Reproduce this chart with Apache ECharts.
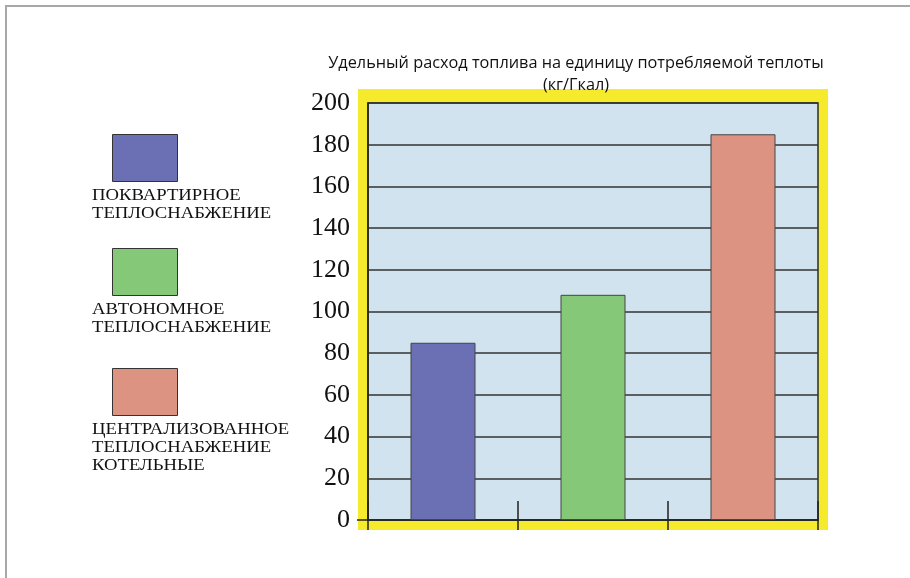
<!DOCTYPE html>
<html>
<head>
<meta charset="utf-8">
<script src="https://cdn.jsdelivr.net/npm/echarts@6/dist/echarts.min.js"></script>
<style>
  html, body { margin: 0; padding: 0; background: #fff; }
  #frame { position: absolute; left: 5px; top: 5px; width: 905px; height: 573px;
           border-top: 2px solid #a8a8a8; border-left: 2px solid #a8a8a8; box-sizing: border-box; }
  #chart { position: absolute; left: 0; top: 0; width: 910px; height: 578px; }
</style>
</head>
<body>
<div id="frame"></div>
<div id="chart"></div>
<script>
// Heating types and specific fuel consumption, kg per Gcal of delivered heat
const categories = [
  'ПОКВАРТИРНОЕ\nТЕПЛОСНАБЖЕНИЕ',
  'АВТОНОМНОЕ\nТЕПЛОСНАБЖЕНИЕ',
  'ЦЕНТРАЛИЗОВАННОЕ\nТЕПЛОСНАБЖЕНИЕ\nКОТЕЛЬНЫЕ'
];
const fuelUse = [85, 108, 185];
const barColors = ['#6b70b5', '#85c878', '#dd9381'];
const yTicks = [0, 20, 40, 60, 80, 100, 120, 140, 160, 180, 200];
const titleLines = ['Удельный расход топлива на единицу потребляемой теплоты', '(кг/Гкал)'];

// plot area placement
const G = { left: 368, top: 103, right: 92, bottom: 58 };
const W = 910, H = 578;
const plotRight = W - G.right, plotBottom = H - G.bottom;

const chart = echarts.init(document.getElementById('chart'), null, { renderer: 'canvas' });

// legend swatches with captions underneath
const legendTops = [134, 248, 368];
const legendGraphics = [];
categories.forEach((name, i) => {
  legendGraphics.push({
    type: 'rect', left: 112, top: legendTops[i], z: 10,
    shape: { width: 65, height: 47 },
    style: { fill: barColors[i], stroke: '#333', lineWidth: 1 }
  });
  legendGraphics.push({
    type: 'text', x: 92, y: legendTops[i] + 53, z: 10, scaleX: 1.1,
    style: { text: name, font: '17px "Liberation Serif"', fill: '#111', lineHeight: 18 }
  });
});

const option = {
  animation: false,
  title: {
    text: titleLines.join('\n'),
    left: 571, top: 47, textAlign: 'center',
    textStyle: { fontFamily: 'Open Sans', fontSize: 16.3, fontWeight: 'normal', color: '#111', lineHeight: 22 }
  },
  grid: {
    left: G.left, top: G.top, right: G.right, bottom: G.bottom,
    show: true, backgroundColor: '#d0e3ee', borderColor: '#2a2a2a', borderWidth: 1.5
  },
  graphic: [
    // yellow frame around the plot
    {
      type: 'rect', left: G.left - 10, top: G.top - 14, z: -10, silent: true,
      shape: { width: plotRight - G.left + 20, height: plotBottom - G.top + 24 },
      style: { fill: '#f6ea2c' }
    },
    // baseline stub left of the axis
    {
      type: 'line', z: 10, silent: true,
      shape: { x1: G.left - 11, y1: plotBottom, x2: G.left, y2: plotBottom },
      style: { stroke: '#222', lineWidth: 1.5 }
    },
    ...legendGraphics
  ],
  xAxis: [
    {
      type: 'category', data: categories,
      axisLine: { show: true, lineStyle: { color: '#222', width: 1.5 } },
      axisTick: { show: true, interval: 0, length: 10, inside: false, lineStyle: { color: '#222', width: 1.5 } },
      axisLabel: { show: false, interval: 0 }, splitLine: { show: false }
    },
    {
      type: 'category', data: categories, position: 'bottom',
      axisLine: { show: false },
      axisTick: { show: true, interval: 0, length: 19, inside: true, lineStyle: { color: '#222', width: 1.5 } },
      axisLabel: { show: false, interval: 0 }, splitLine: { show: false }
    }
  ],
  yAxis: {
    type: 'value', min: yTicks[0], max: yTicks[yTicks.length - 1], interval: yTicks[1] - yTicks[0],
    axisLine: { show: true, lineStyle: { color: '#222', width: 1.5 } },
    axisTick: { show: false },
    axisLabel: { margin: 18, fontFamily: 'Liberation Serif', fontSize: 26, color: '#111' },
    splitLine: { show: true, lineStyle: { color: '#333', width: 1.5 } }
  },
  series: [{
    type: 'bar', xAxisIndex: 0, barWidth: 65, z: 5,
    data: fuelUse.map((v, i) => ({ value: v, itemStyle: { color: barColors[i] } })),
    itemStyle: { borderColor: '#444', borderWidth: 1 }
  }]
};
chart.setOption(option);
</script>
</body>
</html>
